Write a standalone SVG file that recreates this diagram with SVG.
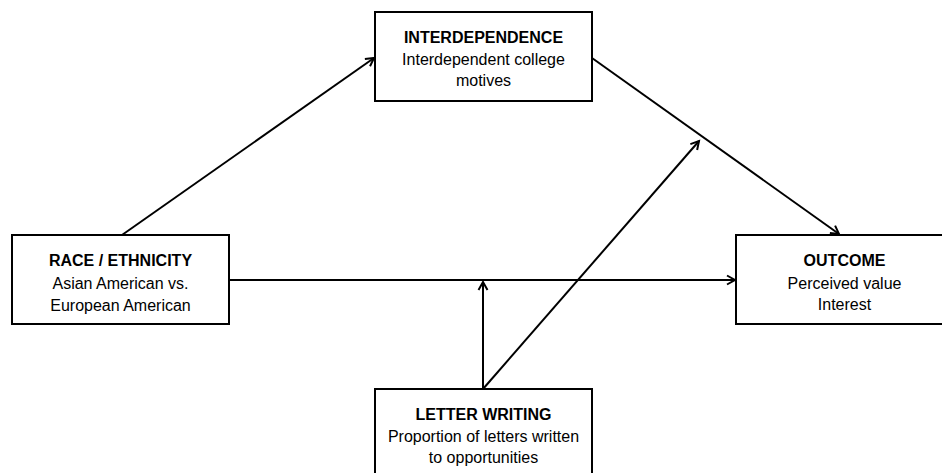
<svg xmlns="http://www.w3.org/2000/svg" width="942" height="473" viewBox="0 0 942 473">
<style>
.box{fill:#fff;stroke:#000;stroke-width:2}
.t{font-family:"Liberation Sans",Arial,sans-serif;font-size:16px;fill:#000;text-anchor:middle}
.b{font-weight:bold}
.c{stroke:#000;stroke-width:2;fill:none;marker-end:url(#ah)}
</style>
<defs>
<marker id="ah" markerUnits="userSpaceOnUse" markerWidth="20" markerHeight="20" viewBox="-10 -10 20 20" refX="0" refY="0" orient="auto">
<path d="M-8,-4.5 L0,0 L-8,4.5" fill="none" stroke="#000" stroke-width="2"/>
</marker>
</defs>
<rect width="942" height="473" fill="#fff"/>
<g id="connectors">
<line class="c" x1="122" y1="235" x2="374" y2="58"/>
<line class="c" x1="592" y1="58" x2="839" y2="234"/>
<line class="c" x1="229" y1="280" x2="735" y2="280"/>
<line class="c" x1="483" y1="389" x2="483" y2="282"/>
<line class="c" x1="483" y1="389" x2="699" y2="141"/>
</g>
<g id="interdependence">
<rect class="box" x="375" y="12" width="217" height="89"/>
<text class="t b" x="483.5" y="43">INTERDEPENDENCE</text>
<text class="t" x="483.5" y="64.5">Interdependent college</text>
<text class="t" x="483.5" y="86">motives</text>
</g>
<g id="race">
<rect class="box" x="12" y="235" width="217" height="89"/>
<text class="t b" x="120.5" y="266">RACE / ETHNICITY</text>
<text class="t" x="120.5" y="288.5">Asian American vs.</text>
<text class="t" x="120.5" y="310.5">European American</text>
</g>
<g id="outcome">
<rect class="box" x="736" y="235" width="217" height="89"/>
<text class="t b" x="844.5" y="266">OUTCOME</text>
<text class="t" x="844.5" y="288.5">Perceived value</text>
<text class="t" x="844.5" y="310">Interest</text>
</g>
<g id="letter">
<rect class="box" x="375" y="389" width="217" height="95"/>
<text class="t b" x="483.5" y="420">LETTER WRITING</text>
<text class="t" x="483.5" y="442">Proportion of letters written</text>
<text class="t" x="483.5" y="463">to opportunities</text>
</g>
</svg>
